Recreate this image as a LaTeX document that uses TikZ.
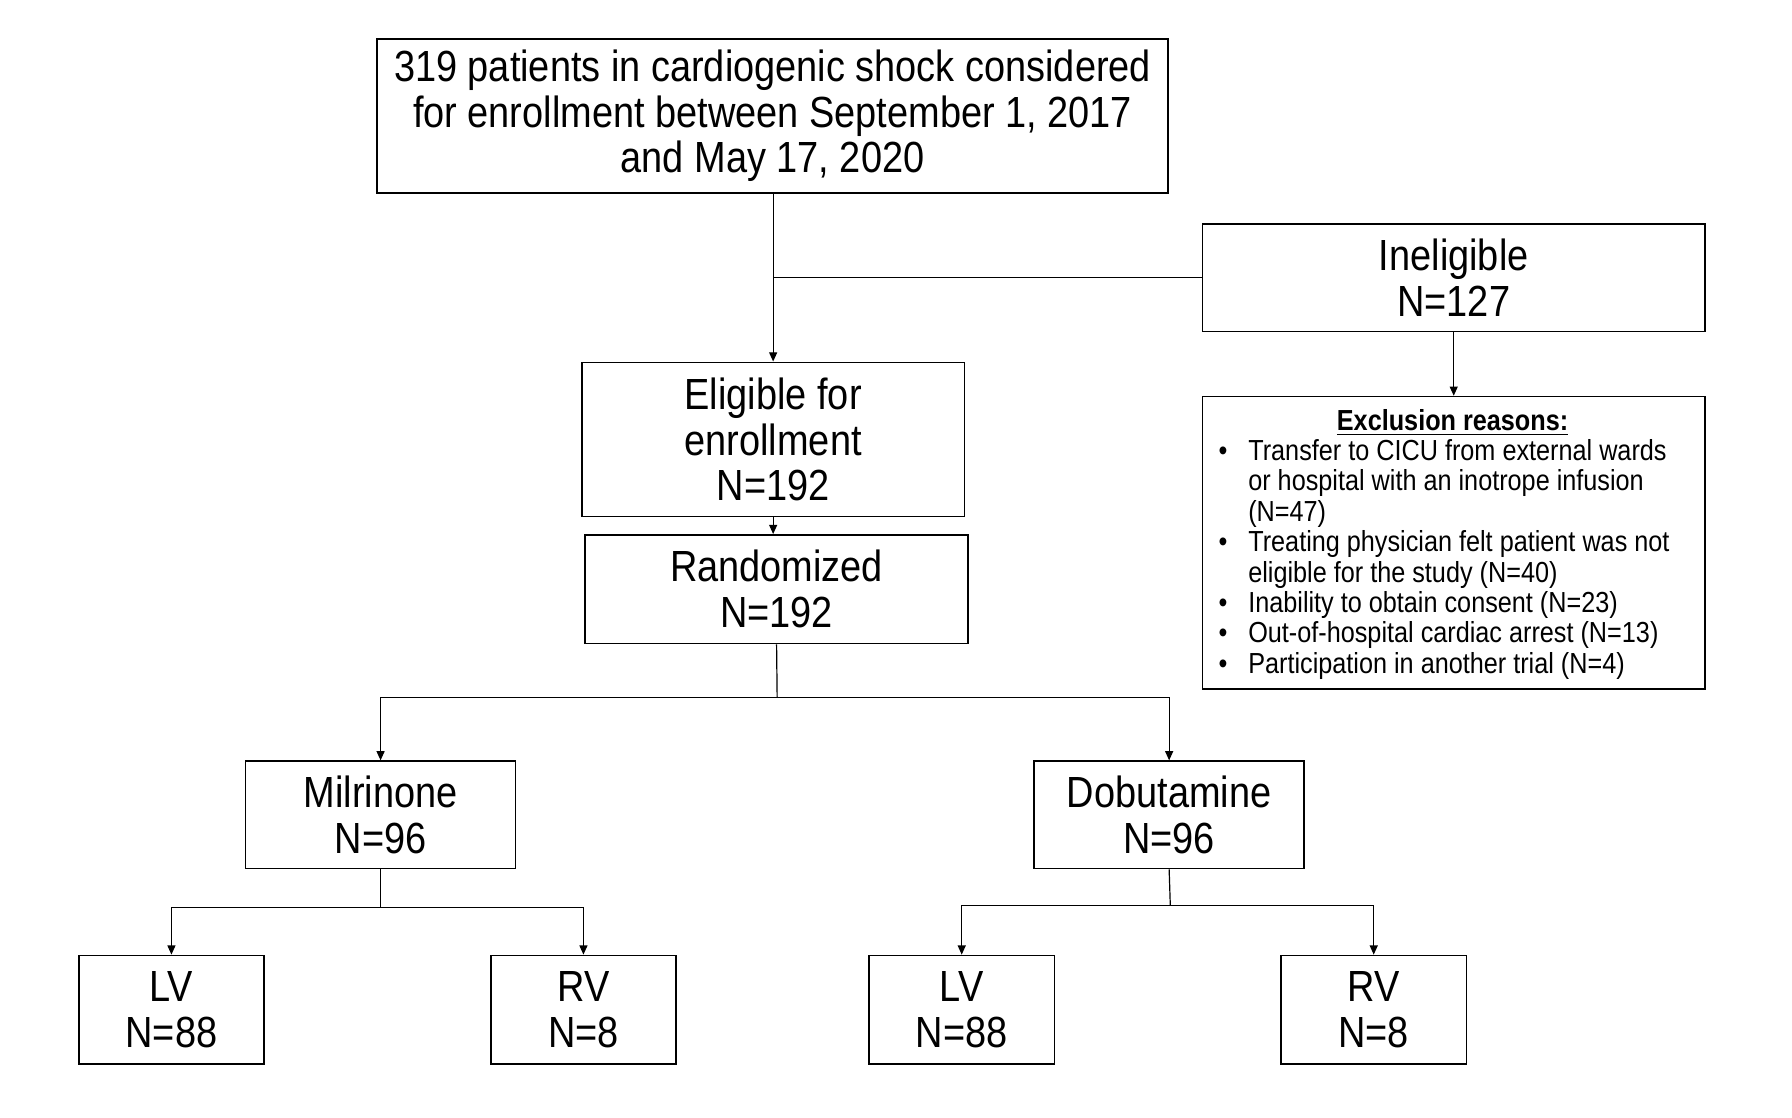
\documentclass[tikz,border=0pt]{standalone}
\usepackage{fontspec}
\setmainfont{Liberation Sans}[FakeStretch=0.87]
\usetikzlibrary{arrows.meta}
\newcommand\mainsz{\fontsize{21.8pt}{22.8pt}\selectfont}
\newcommand\exsz{\fontsize{14.5pt}{15.2pt}\selectfont}
\begin{document}
\begin{tikzpicture}[x=0.5714pt, y=-0.5714pt,
  box/.style={draw, line width=0.8pt, inner sep=2pt, align=center, font=\mainsz},
  conn/.style={line width=0.6pt},
  arr/.style={conn, -{Triangle[length=4.6pt,width=4pt]}}]
\fill[white] (0,0) rectangle (1568,978);
\useasboundingbox (0,0) rectangle (1568,978);
\node[box, minimum width=395.4pt, minimum height=77.1pt] (top) at (676,101.5) {319 patients in cardiogenic shock considered\\for enrollment between September 1, 2017\\and May 17, 2020};
\node[box, minimum width=251.4pt, minimum height=53.7pt] (inel) at (1272,243) {Ineligible\\N=127};
\node[box, minimum width=191.4pt, minimum height=77.1pt] (elig) at (676.5,384.5) {Eligible for\\enrollment\\N=192};
\node[box, minimum width=191.4pt, minimum height=54.3pt] (rand) at (679.5,515.5) {Randomized\\N=192};
\node[box, minimum width=134.9pt, minimum height=53.7pt] (milr) at (333,713) {Milrinone\\N=96};
\node[box, minimum width=134.9pt, minimum height=53.7pt] (dobu) at (1023,713) {Dobutamine\\N=96};
\node[box, minimum width=92.6pt, minimum height=54.3pt] (lv1) at (150,883.5) {LV\\N=88};
\node[box, minimum width=92.6pt, minimum height=54.3pt] (rv1) at (510.5,883.5) {RV\\N=8};
\node[box, minimum width=92.6pt, minimum height=54.3pt] (lv2) at (841.5,883.5) {LV\\N=88};
\node[box, minimum width=92.6pt, minimum height=54.3pt] (rv2) at (1202,883.5) {RV\\N=8};
\node[box, minimum width=251.4pt, minimum height=146.3pt] (excl) at (1272,475) {};
\node[font=\exsz\bfseries, anchor=base, inner sep=0pt] (extitle) at (1271,377) {\underline{Exclusion reasons:}};
\node[font=\exsz, anchor=base west, inner sep=0pt] (exlist) at (1066,403) {\begin{tabular}[t]{@{}p{14.8pt}@{}l@{}}
•& Transfer to CICU from external wards\\
 & or hospital with an inotrope infusion\\
 & (N=47)\\
•& Treating physician felt patient was not\\
 & eligible for the study (N=40)\\
•& Inability to obtain consent (N=23)\\
•& Out-of-hospital cardiac arrest (N=13)\\
•& Participation in another trial (N=4)
\end{tabular}};
% connectors
\draw[arr] (top.south -| elig.north) -- (elig.north);
\coordinate (j1) at (elig.north |- inel.west);
\draw[conn] (inel.west) -- (j1);
\draw[arr] (inel.south) -- (excl.north);
\draw[arr] (elig.south) -- (elig.south |- rand.north);
\coordinate (s1) at (680,610);
\draw[conn] (rand.south) -- (s1);
\draw[arr] (s1) -| (milr.north);
\draw[arr] (s1) -| (dobu.north);
\coordinate (s2) at (333,794);
\draw[conn] (milr.south) -- (s2);
\draw[arr] (s2) -| (lv1.north);
\draw[arr] (s2) -| (rv1.north);
\coordinate (s3) at (1024,792);
\draw[conn] (dobu.south) -- (s3);
\draw[arr] (s3) -| (lv2.north);
\draw[arr] (s3) -| (rv2.north);
\end{tikzpicture}
\end{document}
